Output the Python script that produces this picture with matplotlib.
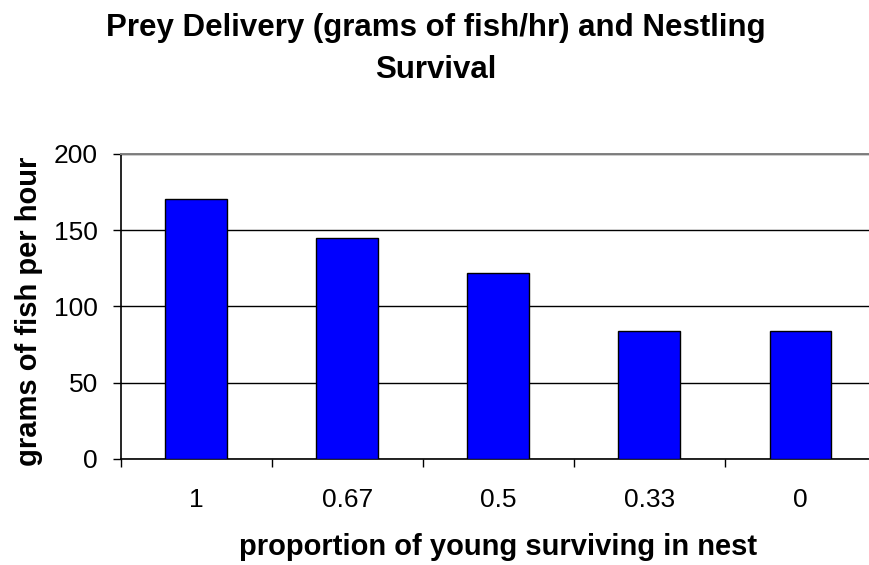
import matplotlib
matplotlib.use("Agg")
import matplotlib.pyplot as plt
import numpy as np

# data
categories = ["1", "0.67", "0.5", "0.33", "0"]
grams_per_hour = [170, 145, 122, 84, 84]
y_ticks = [0, 50, 100, 150, 200]

plt.rcParams['font.family'] = ['Liberation Sans', 'DejaVu Sans']

W, H = 869, 565
fig = plt.figure(figsize=(W / 100, H / 100), dpi=100)
# plot area runs a little past the right edge of the picture, as in the reference
ax = fig.add_axes([120.7 / W, 1 - 459 / H, (876 - 120.7) / W, (459 - 153.7) / H])

x = np.arange(len(categories))
ax.bar(x, grams_per_hour, width=0.41, color='#0000FF', edgecolor='black',
       linewidth=1.0, zorder=3)

ax.set_xlim(-0.5, len(categories) - 0.5)
ax.set_ylim(0, 200)
ax.set_yticks(y_ticks)
ax.set_yticklabels([str(v) for v in y_ticks], fontsize=19)
ax.set_xticks(x)
ax.set_xticklabels(categories, fontsize=19)
ax.set_xticks(np.arange(len(categories) + 1) - 0.5, minor=True)

ax.tick_params(axis='x', which='major', length=0, pad=21)
ax.tick_params(axis='x', which='minor', length=5.8, width=1.0, direction='out')
ax.tick_params(axis='y', which='major', length=5.8, width=1.0, direction='out', pad=10.5)

ax.grid(axis='y', color='black', linewidth=1.0, zorder=0)
ax.spines['right'].set_visible(False)
ax.spines['top'].set_color('#808080')
ax.spines['top'].set_linewidth(1.4)
ax.spines['left'].set_linewidth(1.2)
ax.spines['bottom'].set_linewidth(1.2)

# axis titles placed by baseline
fig.text(498 / W, 1 - 555 / H, 'proportion of young surviving in nest',
         ha='center', va='baseline', fontsize=21, fontweight='bold')
fig.text(37 / W, 1 - 311 / H, 'grams of fish per hour', rotation=90,
         rotation_mode='anchor', ha='center', va='baseline',
         fontsize=21, fontweight='bold')

# chart title, two lines
fig.text(436 / W, 1 - 36 / H, 'Prey Delivery (grams of fish/hr) and Nestling',
         ha='center', va='baseline', fontsize=22.5, fontweight='bold')
fig.text(436 / W, 1 - 78 / H, 'Survival',
         ha='center', va='baseline', fontsize=22.5, fontweight='bold')

fig.savefig('out.png', dpi=100)
